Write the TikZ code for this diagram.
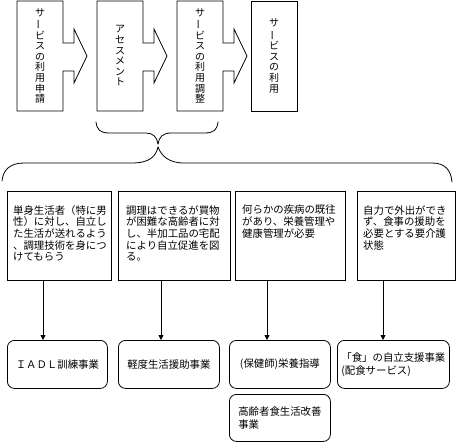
\documentclass[tikz,border=0pt]{standalone}
\usepackage{fontspec}
\setmainfont{Noto Sans CJK JP}
\usepackage{graphicx}
\usetikzlibrary{arrows.meta,positioning}
\tikzset{
  outln/.style={line width=0.8pt, line join=miter},
  braceln/.style={line width=0.8pt, line cap=round},
  notebox/.style={draw, line width=0.8pt, anchor=north west, inner sep=0pt, minimum height=89pt},
  notetxt/.style={anchor=north west, inner sep=0pt, align=left, font=\fontsize{10.4}{11.7}\selectfont},
  jobbox/.style={draw, line width=0.8pt, rounded corners=7pt, anchor=north west, inner sep=0pt,
    align=left, font=\fontsize{10.4}{12.5}\selectfont},
  downarr/.style={-{Triangle[length=5pt,width=5pt]}, line width=0.8pt},
  vtxt/.style={align=center, inner sep=0pt, font=\fontsize{10}{10.6}\selectfont},
}
\newcommand{\vbar}{\rotatebox[origin=c]{90}{ー}}
\newcommand{\stepshape}[2]{% left and right edge of one step
  \draw[outln] (#1,1) -- (#2,1) -- (#2,43) -- ({#2+11},43) -- ({#2+11},29) -- ({#2+24},56)
    -- ({#2+11},83) -- ({#2+11},71) -- (#2,71) -- (#2,111) -- (#1,111) -- cycle;
}

\begin{document}
\begin{tikzpicture}[x=1pt, y=-1pt]
    \useasboundingbox (0,0) rectangle (459,442);
    % top: flow of the service
    \stepshape{17}{63}
    \stepshape{97}{143}
    \stepshape{177}{223}
    \draw[outln] (251,1) rectangle (297,111);
    \node[vtxt] (t1) at (40,56) {サ\\\vbar\\ビ\\ス\\の\\利\\用\\申\\請};
    \node[vtxt] (t2) at (120,56) {ア\\セ\\ス\\メ\\ン\\ト};
    \node[vtxt] (t3) at (200,56) {サ\\\vbar\\ビ\\ス\\の\\利\\用\\調\\整};
    \node[vtxt] (t4) at (274,56) {サ\\\vbar\\ビ\\ス\\の\\利\\用};
    % braces
    \coordinate (cusp1) at (158,144);
    \coordinate (cusp2) at (158,147);
    \draw[braceln] (96,122) .. controls (97,130) and (100,133) .. (110,133) -- (146,133)
      .. controls (153,133) and (157,137) .. (cusp1);
    \draw[braceln] (218,122) .. controls (217,130) and (214,133) .. (204,133) -- (171,133)
      .. controls (163,133) and (159,137) .. (cusp1);
    \draw[braceln] (cusp2) .. controls (156,156) and (150,163) .. (132,163) -- (24,163)
      .. controls (10,163) and (3,170) .. (2,181);
    \draw[braceln] (cusp2) .. controls (161,155) and (168,163) .. (184,163) -- (432,163)
      .. controls (445,163) and (451,170) .. (452,182);
    % target groups
    \node[notebox, minimum width=104pt] (m1) at (7,191) {};
    \node[notebox, minimum width=112pt] (m2) at (118,191) {};
    \node[notebox, minimum width=110pt] (m3) at (235,191) {};
    \node[notebox, minimum width=98pt] (m4) at (357,191) {};
    \node[notetxt] (m1t) at ([xshift=6pt, yshift=-14pt]m1.north west)
      {単身生活者（特に男\\性）に対し、自立し\\た生活が送れるよう\\、調理技術を身につ\\けてもらう};
    \node[notetxt] (m2t) at ([xshift=8pt, yshift=-14pt]m2.north west)
      {調理はできるが買物\\が困難な高齢者に対\\し、半加工品の宅配\\により自立促進を図\\る。};
    \node[notetxt] (m3t) at ([xshift=7pt, yshift=-14pt]m3.north west)
      {何らかの疾病の既往\\があり、栄養管理や\\健康管理が必要};
    \node[notetxt] (m4t) at ([xshift=6pt, yshift=-14pt]m4.north west)
      {自力で外出ができ\\ず、食事の援助を\\必要とする要介護\\状態};
    % services
    \node[jobbox, minimum width=100pt, minimum height=48pt] (b1) at (7,340) {ＩＡＤＬ訓練事業};
    \node[jobbox, minimum width=101pt, minimum height=48pt] (b2) at (118,340) {軽度生活援助事業};
    \node[jobbox, minimum width=101pt, minimum height=48pt] (b3) at (229,340) {(保健師)栄養指導};
    \node[jobbox, minimum width=112pt, minimum height=48pt] (b4) at (337,340)
      {「食」の自立支援事業\\(配食サービス)};
    \node[jobbox, minimum width=101pt, minimum height=47pt] (b5) at (229,394)
      {高齢者食生活改善\\事業};
    % arrows
    \coordinate (x1) at (43,0);
    \coordinate (x2) at (161,0);
    \coordinate (x3) at (267,0);
    \coordinate (x4) at (383,0);
    \draw[downarr] (m1.south -| x1) -- (b1.north -| x1);
    \draw[downarr] (m2.south -| x2) -- (b2.north -| x2);
    \draw[downarr] (m3.south -| x3) -- (b3.north -| x3);
    \draw[downarr] (m4.south -| x4) -- (b4.north -| x4);
\end{tikzpicture}
\end{document}
